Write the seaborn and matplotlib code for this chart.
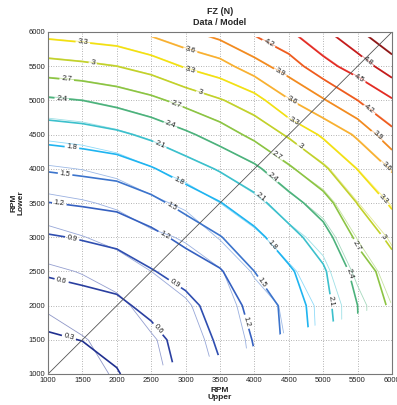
import numpy as np
import matplotlib
matplotlib.use("Agg")
import matplotlib.pyplot as plt
import matplotlib.colors as mcolors
from matplotlib.patches import Polygon
import seaborn as sns

# ---------------- data ----------------
rpm_upper = [1000, 1500, 2000, 2500, 3000, 3500, 4000, 4500, 5000, 5500, 6000]
rpm_lower = [1000, 1500, 2000, 2500, 3000, 3500, 4000, 4500, 5000, 5500, 6000]
tick_values = [1000, 1500, 2000, 2500, 3000, 3500, 4000, 4500, 5000, 5500, 6000]

# measured FZ (N): one list per upper RPM, values along lower RPM (1000 -> 6000)
fz_data_by_upper = [
    [0.05, 0.256, 0.44, 0.633, 0.87, 1.193, 1.53, 1.913, 2.352, 2.876, 3.41],
    [0.13, 0.307, 0.484, 0.681, 0.924, 1.233, 1.575, 1.958, 2.40, 2.928, 3.46],
    [0.28, 0.388, 0.534, 0.734, 0.987, 1.275, 1.627, 2.038, 2.497, 3.00, 3.51],
    [0.466, 0.495, 0.686, 0.88, 1.114, 1.41, 1.774, 2.17, 2.625, 3.126, 3.67],
    [0.657, 0.725, 0.806, 1.021, 1.285, 1.611, 1.954, 2.343, 2.80, 3.332, 3.85],
    [0.87, 0.944, 1.035, 1.17, 1.485, 1.787, 2.131, 2.54, 2.975, 3.477, 4.03],
    [1.16, 1.22, 1.29, 1.50, 1.708, 2.00, 2.33, 2.785, 3.17, 3.78, 4.25],
    [1.556, 1.587, 1.595, 1.75, 1.99, 2.27, 2.65, 3.04, 3.58, 4.05, 4.47],
    [1.946, 1.946, 2.00, 2.056, 2.26, 2.57, 2.945, 3.35, 3.87, 4.40, 4.74],
    [2.38, 2.39, 2.40, 2.52, 2.77, 3.01, 3.31, 3.65, 4.20, 4.64, 5.06],
    [2.72, 2.74, 2.76, 2.86, 3.08, 3.35, 3.63, 4.12, 4.47, 4.97, 5.35],
]

# model FZ (N): same layout
fz_model_by_upper = [
    [0.0, 0.15, 0.347, 0.545, 0.793, 1.105, 1.457, 1.877, 2.34, 2.866, 3.40],
    [0.167, 0.28, 0.44, 0.616, 0.889, 1.167, 1.51, 1.93, 2.39, 2.92, 3.45],
    [0.34, 0.40, 0.514, 0.745, 0.99, 1.253, 1.60, 2.03, 2.49, 2.99, 3.50],
    [0.52, 0.565, 0.733, 0.90, 1.13, 1.414, 1.777, 2.165, 2.62, 3.12, 3.66],
    [0.717, 0.77, 0.86, 1.04, 1.233, 1.577, 1.95, 2.34, 2.80, 3.32, 3.84],
    [0.937, 1.005, 1.085, 1.164, 1.53, 1.80, 2.13, 2.535, 2.97, 3.47, 4.02],
    [1.24, 1.27, 1.32, 1.543, 1.72, 2.01, 2.34, 2.78, 3.16, 3.77, 4.24],
    [1.53, 1.53, 1.575, 1.74, 1.98, 2.28, 2.66, 3.05, 3.57, 4.04, 4.46],
    [1.875, 1.875, 1.88, 2.00, 2.22, 2.55, 2.93, 3.34, 3.86, 4.39, 4.73],
    [2.29, 2.29, 2.29, 2.48, 2.72, 2.99, 3.30, 3.64, 4.19, 4.63, 5.05],
    [2.70, 2.70, 2.70, 2.85, 3.05, 3.33, 3.62, 4.11, 4.46, 4.96, 5.34],
]

levels = [0.3, 0.6, 0.9, 1.2, 1.5, 1.8, 2.1, 2.4, 2.7, 3.0, 3.3, 3.6, 3.9, 4.2, 4.5, 4.8, 5.1]

# region covered by the measurements
coverage_upper = [1000, 2300, 2800, 3450, 3950, 4400, 4850, 5250, 5550, 5900, 6000, 6000, 1000]
coverage_lower = [1000, 1000, 1170, 1270, 1390, 1590, 1700, 1790, 1900, 2000, 2050, 5925, 5925]

# ---------------- style ----------------
level_colors = ['#1f2f8f', '#2a3fa0', '#2f4eb0', '#3560c0', '#3c74cc', '#1fb4f0',
                '#3cc0cc', '#4cb27c', '#8cc443', '#c2d12a', '#f2e012', '#f8b030',
                '#f28a1e', '#ee5a1c', '#e32a22', '#c41a1a', '#8e1414']
model_colors = [tuple(0.5 * np.array(mcolors.to_rgb(c)) + 0.5) for c in level_colors]

label_positions = [
    (1300, 1520),
    (1200, 2375), (2580, 1640),
    (1345, 2950), (2850, 2330),
    (1165, 3495), (2670, 2985), (3890, 1765),
    (1250, 3935), (2790, 3446), (4130, 2350),
    (1345, 4290), (2894, 3812), (4227, 2860),
    (2610, 4318), (4052, 3544), (5099, 2057),
    (1200, 5021), (2773, 4626), (4251, 3861), (5415, 2476),
    (1270, 5288), (2846, 4908), (4328, 4190), (5608, 2935),
    (1650, 5547), (3209, 5113), (4650, 4310), (5880, 3008),
    (1504, 5825), (3064, 5445), (4578, 4714), (5898, 3568),
    (3078, 5766), (4566, 5045), (5889, 4007),
    (4396, 5445), (5801, 4500),
    (4183, 5785), (5685, 4884),
    (5540, 5347),
    (5650, 5577),
]

sns.set_style("white")
plt.rcParams['font.family'] = ['Liberation Sans', 'DejaVu Sans']

fig = plt.figure(figsize=(3.97, 4.05), dpi=100)
ax = fig.add_axes([48 / 397, 1 - 374 / 405, 344 / 397, 342 / 405])

X, Y = np.meshgrid(rpm_upper, rpm_lower)
Zd = np.array(fz_data_by_upper).T
Zm = np.array(fz_model_by_upper).T

ax.grid(True, linestyle=(0, (1, 2)), color='#9a9a9a', linewidth=0.6)

cs_model = ax.contour(X, Y, Zm, levels=levels, colors=model_colors, linewidths=0.6)
cs_data = ax.contour(X, Y, Zd, levels=levels, colors=level_colors, linewidths=1.2)

clip = Polygon(np.column_stack([coverage_upper, coverage_lower]), closed=True,
               transform=ax.transData, facecolor='none', edgecolor='none')
cs_model.set_clip_path(clip)
cs_data.set_clip_path(clip)

ax.clabel(cs_data, manual=label_positions, inline=True, inline_spacing=2,
          fontsize=5.5, colors='#222222', fmt=lambda v: f"{v:g}")

axis_range = [tick_values[0], tick_values[-1]]
sns.lineplot(x=axis_range, y=axis_range, ax=ax, color='#555555', linewidth=0.6)

ax.set_xlim(axis_range)
ax.set_ylim(axis_range)
ax.set_xticks(tick_values)
ax.set_yticks(tick_values)
ax.tick_params(direction='in', length=3, width=0.5, labelsize=5.5,
               colors='#222222', pad=2)
for s in ax.spines.values():
    s.set_color('#777777')
    s.set_linewidth(0.8)

ax.set_title("FZ (N)\nData / Model", fontsize=6.5, fontweight='bold', pad=5, linespacing=1.35)
ax.set_xlabel("RPM\nUpper", fontsize=6, fontweight='bold', labelpad=2, linespacing=1.05)
ax.set_ylabel("RPM\nLower", fontsize=6, fontweight='bold', labelpad=3, linespacing=1.05)

fig.savefig("out.png", dpi=100)
